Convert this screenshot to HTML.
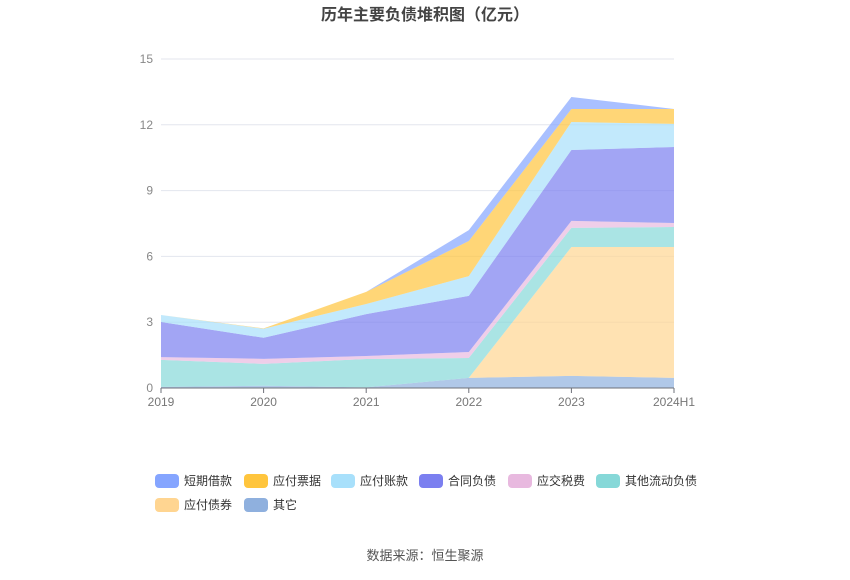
<!DOCTYPE html>
<html><head><meta charset="utf-8"><style>
body{margin:0;background:#fff;font-family:"Liberation Sans","Noto Sans CJK SC",sans-serif;}
svg text{font-family:"Liberation Sans","Noto Sans CJK SC",sans-serif;}
</style></head><body>
<svg id="c" width="850" height="575" xmlns="http://www.w3.org/2000/svg">
<text x="425" y="20" text-anchor="middle" font-size="16" font-weight="bold" fill="#444">历年主要负债堆积图（亿元）</text>
<g id="grid"></g><g id="areas"></g><g id="axes"></g><g id="legend"></g>
<text x="425" y="560" text-anchor="middle" font-size="13" fill="#555">数据来源：恒生聚源</text>
</svg>
<script>
const categories=["2019","2020","2021","2022","2023","2024H1"];
const seriesNames=["其它","应付债券","其他流动负债","应交税费","合同负债","应付账款","应付票据","短期借款"];
const other=[0.05,0.1,0.03,0.46,0.55,0.46];
const bonds=[0,0,0,0,5.88,5.97];
const otherCurrent=[1.23,1.0,1.29,0.91,0.87,0.91];
const taxes=[0.13,0.23,0.14,0.27,0.32,0.18];
const contract=[1.6,0.96,1.91,2.56,3.23,3.47];
const payables=[0.32,0.41,0.46,0.9,1.28,1.05];
const notes=[0,0.02,0.55,1.6,0.59,0.68];
const shortLoans=[0,0,0,0.5,0.55,0];
const yTicks=[0,3,6,9,12,15];
const series=[other,bonds,otherCurrent,taxes,contract,payables,notes,shortLoans];
const colors=["#8fb0de","#ffd591","#86d8d8","#e8b9df","#7b7ff0","#a8e0fb","#ffc53d","#85a5ff"];
const names=["other","bonds","other-current","taxes","contract","payables","notes","short-loans"];
const NS="http://www.w3.org/2000/svg";
const x0=161,x1=674,y0=388,yTop=59;
const X=i=>x0+(x1-x0)*i/(categories.length-1);
const Y=v=>y0-(y0-yTop)*v/15;
function mk(tag,attrs,parent){const e=document.createElementNS(NS,tag);for(const k in attrs)e.setAttribute(k,attrs[k]);parent.appendChild(e);return e;}
const grid=document.getElementById('grid'),areas=document.getElementById('areas'),axes=document.getElementById('axes'),legend=document.getElementById('legend');
yTicks.forEach(t=>{
 const l=mk('line',{x1:x0,x2:x1,y1:Y(t),y2:Y(t),stroke:'#e3e6ee','stroke-width':1},grid);
 
 
 const tx=mk('text',{x:153,y:Y(t)+4,'text-anchor':'end','font-size':12,fill:'#888'},axes);
 tx.textContent=t;
 
 
});
let base=categories.map(()=>0);
series.forEach((s,si)=>{
 const top=base.map((b,i)=>b+s[i]);
 let d='M'+top.map((v,i)=>X(i)+','+Y(v)).join('L');
 for(let i=categories.length-1;i>=0;i--)d+='L'+X(i)+','+Y(base[i]);
 d+='Z';
 const p=mk('path',{d:d,fill:colors[si],'fill-opacity':0.7,stroke:'none'},areas);
 
 
 base=top;
});
const ax=mk('line',{x1:x0,x2:x1,y1:y0,y2:y0,stroke:'#6e7079'},axes);


categories.forEach((c,i)=>{
 const tk=mk('line',{x1:X(i),x2:X(i),y1:y0,y2:y0+5,stroke:'#6e7079'},axes);
 
 
 const t=mk('text',{x:X(i),y:406,'text-anchor':'middle','font-size':12,fill:'#777'},axes);
 t.textContent=c;
 
 
});
const legOrder=[7,6,5,4,3,2,1,0];
const legPos=[[155,481],[244,481],[331,481],[419,481],[508,481],[596,481],[155,505],[244,505]];
const legColors=["#85a5ff","#ffc53d","#a8e0fb","#7b7ff0","#e8b9df","#86d8d8","#ffd591","#8fb0de"];
legOrder.forEach((si,k)=>{
 const [lx,ly]=legPos[k];
 const g=mk('g',{},legend);
 
 
 mk('rect',{x:lx,y:ly-7,width:24,height:14,rx:4,fill:legColors[k]},g);
 const t=mk('text',{x:lx+29,y:ly+4,'font-size':12,fill:'#333'},g);
 t.textContent=seriesNames[si];
});
</script>
</body></html>
